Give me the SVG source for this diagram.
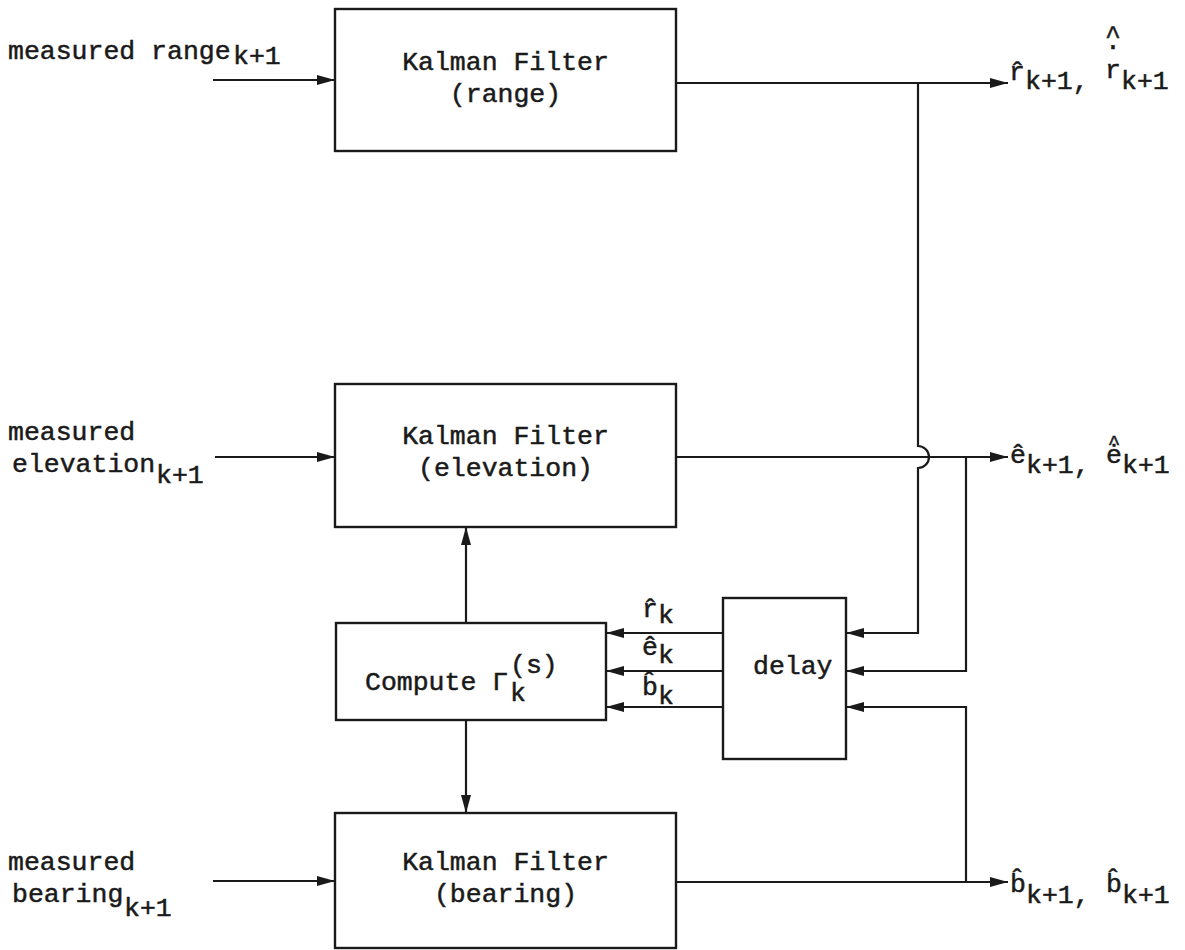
<svg xmlns="http://www.w3.org/2000/svg" width="1185" height="950" viewBox="0 0 1185 950">
<defs>
<style>
.t{font-family:"Liberation Mono","DejaVu Sans Mono",monospace;font-size:26.5px;fill:#1a1a1a;stroke:#1a1a1a;stroke-width:0.5}
.c{text-anchor:middle}
.box{fill:none;stroke:#1a1a1a;stroke-width:2.4}
.ln{fill:none;stroke:#1a1a1a;stroke-width:2.2}
</style>
<marker id="ah" markerUnits="userSpaceOnUse" markerWidth="20" markerHeight="14" refX="18" refY="7" orient="auto">
<path d="M0,2 L18,7 L0,12 Z" fill="#1a1a1a"/>
</marker>
</defs>
<rect width="1185" height="950" fill="#ffffff"/>

<g id="connectors">
<path class="ln" d="M213,80 H335" marker-end="url(#ah)"/>
<path class="ln" d="M215,457 H335" marker-end="url(#ah)"/>
<path class="ln" d="M213,881 H335" marker-end="url(#ah)"/>
<path class="ln" d="M676,83 H1008" marker-end="url(#ah)"/>
<path class="ln" d="M676,457 H1008" marker-end="url(#ah)"/>
<path class="ln" d="M676,882 H1008" marker-end="url(#ah)"/>
<path class="ln" d="M918,83 V446 A11,11 0 0 1 918,468 V633 H846" marker-end="url(#ah)"/>
<path class="ln" d="M966,457 V671 H846" marker-end="url(#ah)"/>
<path class="ln" d="M966,882 V707 H846" marker-end="url(#ah)"/>
<path class="ln" d="M723,633 H606" marker-end="url(#ah)"/>
<path class="ln" d="M723,671 H606" marker-end="url(#ah)"/>
<path class="ln" d="M723,707 H606" marker-end="url(#ah)"/>
<path class="ln" d="M466,623 V527" marker-end="url(#ah)"/>
<path class="ln" d="M466,720 V813" marker-end="url(#ah)"/>
</g>

<g id="kf-range">
<rect class="box" x="335" y="9" width="341" height="142"/>
<text class="t c" x="505.5" y="70">Kalman Filter</text>
<text class="t c" x="505.5" y="102">(range)</text>
</g>

<g id="kf-elevation">
<rect class="box" x="335" y="384" width="341" height="143"/>
<text class="t c" x="505.5" y="444">Kalman Filter</text>
<text class="t c" x="505.5" y="476">(elevation)</text>
</g>

<g id="compute">
<rect class="box" x="336" y="623" width="270" height="97"/>
<text class="t" x="365" y="690">Compute Γ</text>
<text class="t" x="510" y="701">k</text>
<text class="t" x="510" y="673">(s)</text>
</g>

<g id="delay">
<rect class="box" x="723" y="598" width="123" height="161"/>
<text class="t" x="753" y="674">delay</text>
</g>

<g id="kf-bearing">
<rect class="box" x="335" y="813" width="341" height="135"/>
<text class="t c" x="505.5" y="870">Kalman Filter</text>
<text class="t c" x="505.5" y="902">(bearing)</text>
</g>

<g id="labels">
<text class="t" x="8" y="59">measured range</text>
<text class="t" x="233" y="64">k+1</text>
<text class="t" x="8" y="440">measured</text>
<text class="t" x="12" y="472">elevation</text>
<text class="t" x="156" y="483">k+1</text>
<text class="t" x="8" y="870">measured</text>
<text class="t" x="12" y="902">bearing</text>
<text class="t" x="124" y="916">k+1</text>

<text class="t" x="1009" y="80">r̂</text>
<text class="t" x="1025" y="89">k+1,</text>
<text class="t c" x="1113" y="44">^<tspan x="1113" y="49">.</tspan><tspan x="1113" y="78">r</tspan></text>
<text class="t" x="1121" y="89">k+1</text>

<text class="t" x="1010" y="463">ê</text>
<text class="t" x="1026" y="473">k+1,</text>
<text class="t c" x="1114" y="449" style="font-size:21px">^</text>
<text class="t" x="1106" y="463">ė</text>
<text class="t" x="1122" y="473">k+1</text>

<text class="t" x="1010" y="892">b̂</text>
<text class="t" x="1026" y="903">k+1,</text>
<text class="t" x="1106" y="892">b̂</text>
<text class="t" x="1122" y="903">k+1</text>

<text class="t" x="642" y="617">r̂</text>
<text class="t" x="658" y="623">k</text>
<text class="t" x="642" y="655">ê</text>
<text class="t" x="658" y="663">k</text>
<text class="t" x="642" y="695">b̂</text>
<text class="t" x="658" y="704">k</text>
</g>
</svg>
